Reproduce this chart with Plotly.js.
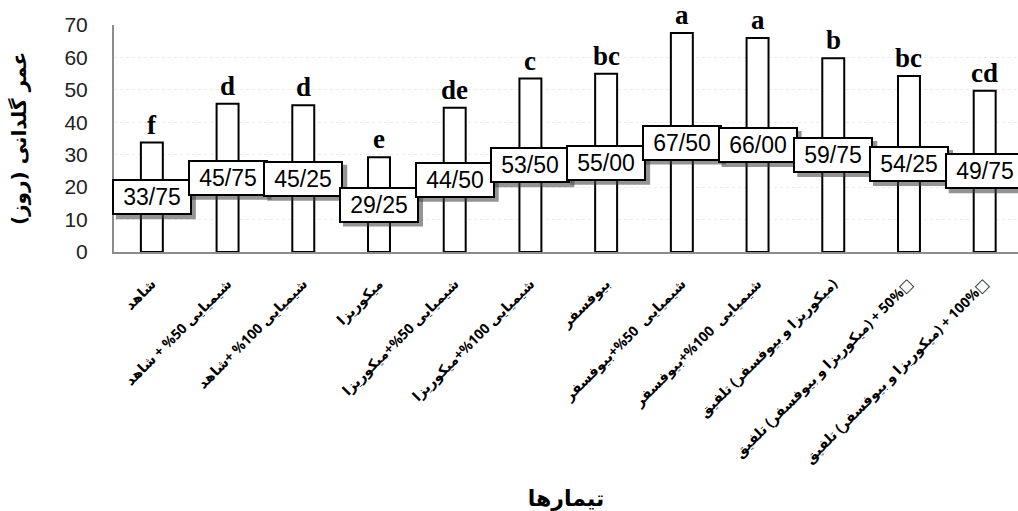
<!DOCTYPE html>
<html>
<head>
<meta charset="utf-8">
<script src="https://cdn.plot.ly/plotly-3.0.1.min.js"></script>
<style>
  html, body { margin: 0; padding: 0; background: #fff; }
  #chart { width: 1018px; height: 511px; }
</style>
</head>
<body>
<div id="chart"></div>
<script>
// Treatments (Persian), vase life in days, and mean-comparison letters
const treatments = [
  "شاهد",
  "شیمیایی 50% + شاهد",
  "شیمیایی 100% +شاهد",
  "میکوریزا",
  "شیمیایی 50%+میکوریزا",
  "شیمیایی 100%+میکوریزا",
  "بیوفسفر",
  "شیمیایی  50%+بیوفسفر",
  "شیمیایی  100%+بیوفسفر",
  "(میکوریزا و بیوفسفر) تلفیق",
  "□50% + (میکوریزا و بیوفسفر) تلفیق",
  "□100% + (میکوریزا و بیوفسفر) تلفیق"
];
const vaseLife = [33.75, 45.75, 45.25, 29.25, 44.50, 53.50, 55.00, 67.50, 66.00, 59.75, 54.25, 49.75];
const groupLetters = ["f", "d", "d", "e", "de", "c", "bc", "a", "a", "b", "bc", "cd"];
const yTicks = [0, 10, 20, 30, 40, 50, 60, 70];

const RLE = "\u202B", PDF = "\u202C";
const rtl = s => RLE + s + PDF;
const idx = treatments.map((_, i) => i);
const valueText = vaseLife.map(v => v.toFixed(2).replace(".", "/"));

const bars = {
  type: "bar",
  x: idx,
  y: vaseLife,
  marker: { color: "#ffffff", line: { color: "#000000", width: 2 } },
  hoverinfo: "skip"
};

const BOX_W = 80, BOX_H = 36;
const annotations = [];
const shapes = [];
idx.forEach(i => {
  // soft drop shadow under each value box
  shapes.push({
    type: "rect", layer: "above",
    xref: "x", yref: "y", xsizemode: "pixel", ysizemode: "pixel",
    xanchor: i, yanchor: vaseLife[i] / 2,
    x0: -BOX_W / 2 + 4, x1: BOX_W / 2 + 4,
    y0: -BOX_H / 2 - 4, y1: BOX_H / 2 - 4,
    fillcolor: "rgba(60,60,60,0.55)", line: { width: 0 }
  });
  // value box, centred half-way up the bar
  annotations.push({
    x: i, y: vaseLife[i] / 2, xref: "x", yref: "y",
    text: valueText[i], showarrow: false,
    font: { family: "Liberation Sans, Arial", size: 23, color: "#000" },
    width: BOX_W - 6, height: BOX_H - 6, borderpad: 1, borderwidth: 2,
    bgcolor: "#ffffff", bordercolor: "#000000"
  });
  // significance letter above the bar
  annotations.push({
    x: i, y: vaseLife[i], xref: "x", yref: "y",
    text: groupLetters[i], showarrow: false,
    yanchor: "bottom", yshift: 1,
    font: { family: "Liberation Serif, Times New Roman", size: 27, color: "#000", weight: "bold" }
  });
});

const layout = {
  width: 1018, height: 511,
  margin: { l: 114, r: 0, t: 25, b: 259 },
  paper_bgcolor: "#ffffff", plot_bgcolor: "#ffffff",
  showlegend: false,
  bargap: 0.71,
  xaxis: {
    range: [-0.5, 11.44],
    tickmode: "array", tickvals: idx, ticktext: treatments.map(rtl),
    tickangle: -45,
    tickfont: { family: "Open Sans, DejaVu Sans", size: 14, color: "#000", weight: "bold" },
    ticklabelstandoff: 16,
    showline: true, linecolor: "#8c8c8c", linewidth: 2,
    showgrid: false, zeroline: false, ticks: "",
    title: { text: rtl("تیمارها"), standoff: 28,
             font: { family: "DejaVu Sans", size: 22, color: "#000", weight: "bold" } }
  },
  yaxis: {
    range: [0, 70],
    tickmode: "array", tickvals: yTicks,
    tickfont: { family: "Liberation Sans, Arial", size: 21, color: "#222" },
    ticklabelstandoff: 20,
    showline: true, linecolor: "#8c8c8c", linewidth: 2,
    showgrid: true, gridcolor: "#ececec", griddash: "dot", gridwidth: 1,
    zeroline: false, ticks: "", automargin: true,
    title: { text: rtl("عمر گلدانی (روز)"), standoff: 32,
             font: { family: "DejaVu Sans", size: 20, color: "#000", weight: "bold" } }
  },
  shapes: shapes,
  annotations: annotations
};

Plotly.newPlot("chart", [bars], layout, { displayModeBar: false, responsive: false });
</script>
</body>
</html>
